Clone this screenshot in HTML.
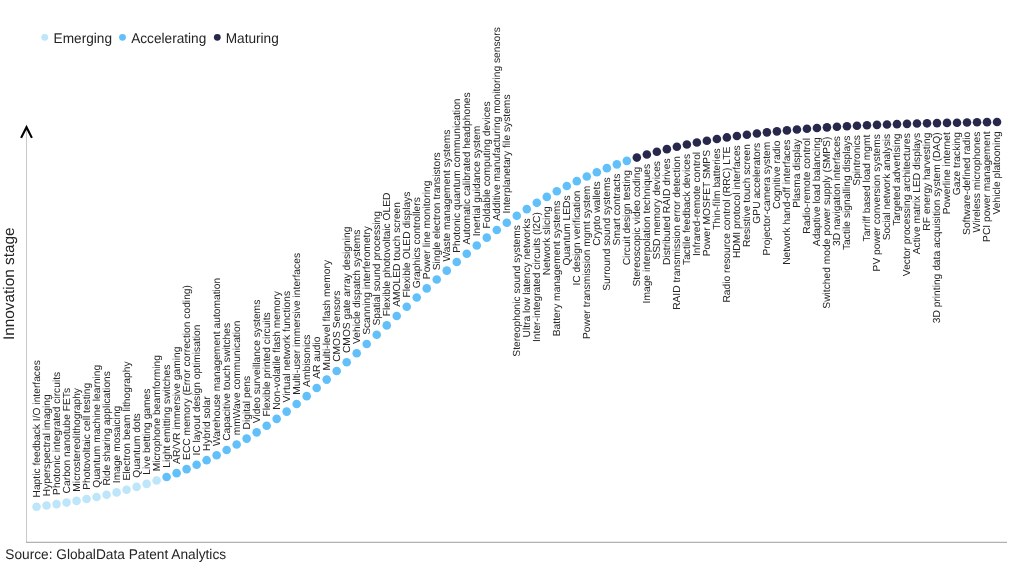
<!DOCTYPE html>
<html lang="en"><head><meta charset="utf-8"><title>Innovation S-curve</title>
<style>html,body{margin:0;padding:0;background:#fff}body{width:1024px;height:576px;overflow:hidden}svg{display:block}text{text-rendering:geometricPrecision;font-family:"Liberation Sans",sans-serif;fill:#242424}.l{font-size:10.25px}.lg{font-size:14.1px}</style></head><body>
<svg width="1024" height="576" viewBox="0 0 1024 576">
<rect width="1024" height="576" fill="#fff"/>
<path d="M26.5 128V542.9" fill="none" stroke="#c9c9c9" stroke-width="1"/>
<path d="M26 542.42H1007" fill="none" stroke="#b1b1b1" stroke-width="1.1"/>
<path d="M21.1 137.9L26.5 127.2L31.9 137.9" fill="none" stroke="#000" stroke-width="2.1" stroke-linejoin="miter"/>
<circle cx="44.7" cy="37.3" r="3.4" fill="#bde6fa"/><text class="lg" transform="translate(53.6 43.25) scale(0.968 1)">Emerging</text>
<circle cx="122.5" cy="37.3" r="3.4" fill="#61c0f9"/><text class="lg" transform="translate(131.2 43.25) scale(0.968 1)">Accelerating</text>
<circle cx="217.3" cy="37.3" r="3.4" fill="#27284b"/><text class="lg" transform="translate(225.7 43.25) scale(0.968 1)">Maturing</text>
<text transform="translate(14.0 340.05) rotate(-90)" font-size="15.35">Innovation stage</text>
<text transform="translate(5.3 558.65) scale(0.975 1)" font-size="14.05">Source: GlobalData Patent Analytics</text>
<g>
<circle cx="36.55" cy="506.71" r="4.3" fill="#bde6fa"/>
<circle cx="46.55" cy="505.47" r="4.3" fill="#bde6fa"/>
<circle cx="56.56" cy="504.10" r="4.3" fill="#bde6fa"/>
<circle cx="66.56" cy="502.58" r="4.3" fill="#bde6fa"/>
<circle cx="76.57" cy="500.89" r="4.3" fill="#bde6fa"/>
<circle cx="86.58" cy="499.04" r="4.3" fill="#bde6fa"/>
<circle cx="96.58" cy="497.01" r="4.3" fill="#bde6fa"/>
<circle cx="106.59" cy="494.80" r="4.3" fill="#bde6fa"/>
<circle cx="116.59" cy="492.38" r="4.3" fill="#bde6fa"/>
<circle cx="126.59" cy="489.76" r="4.3" fill="#bde6fa"/>
<circle cx="136.60" cy="486.91" r="4.3" fill="#bde6fa"/>
<circle cx="146.61" cy="483.84" r="4.3" fill="#bde6fa"/>
<circle cx="156.61" cy="480.53" r="4.3" fill="#bde6fa"/>
<circle cx="166.62" cy="476.97" r="4.3" fill="#61c0f9"/>
<circle cx="176.62" cy="473.16" r="4.3" fill="#61c0f9"/>
<circle cx="186.62" cy="469.10" r="4.3" fill="#61c0f9"/>
<circle cx="196.63" cy="464.78" r="4.3" fill="#61c0f9"/>
<circle cx="206.63" cy="460.17" r="4.3" fill="#61c0f9"/>
<circle cx="216.64" cy="455.27" r="4.3" fill="#61c0f9"/>
<circle cx="226.65" cy="450.04" r="4.3" fill="#61c0f9"/>
<circle cx="236.65" cy="444.49" r="4.3" fill="#61c0f9"/>
<circle cx="246.66" cy="438.59" r="4.3" fill="#61c0f9"/>
<circle cx="256.66" cy="432.36" r="4.3" fill="#61c0f9"/>
<circle cx="266.67" cy="425.79" r="4.3" fill="#61c0f9"/>
<circle cx="276.67" cy="418.87" r="4.3" fill="#61c0f9"/>
<circle cx="286.68" cy="411.61" r="4.3" fill="#61c0f9"/>
<circle cx="296.68" cy="404.02" r="4.3" fill="#61c0f9"/>
<circle cx="306.69" cy="396.13" r="4.3" fill="#61c0f9"/>
<circle cx="316.69" cy="387.98" r="4.3" fill="#61c0f9"/>
<circle cx="326.70" cy="379.61" r="4.3" fill="#61c0f9"/>
<circle cx="336.70" cy="371.03" r="4.3" fill="#61c0f9"/>
<circle cx="346.71" cy="362.24" r="4.3" fill="#61c0f9"/>
<circle cx="356.71" cy="353.22" r="4.3" fill="#61c0f9"/>
<circle cx="366.72" cy="344.04" r="4.3" fill="#61c0f9"/>
<circle cx="376.72" cy="334.75" r="4.3" fill="#61c0f9"/>
<circle cx="386.73" cy="325.39" r="4.3" fill="#61c0f9"/>
<circle cx="396.73" cy="316.02" r="4.3" fill="#61c0f9"/>
<circle cx="406.74" cy="306.71" r="4.3" fill="#61c0f9"/>
<circle cx="416.74" cy="297.49" r="4.3" fill="#61c0f9"/>
<circle cx="426.75" cy="288.39" r="4.3" fill="#61c0f9"/>
<circle cx="436.75" cy="279.44" r="4.3" fill="#61c0f9"/>
<circle cx="446.76" cy="270.66" r="4.3" fill="#61c0f9"/>
<circle cx="456.76" cy="262.07" r="4.3" fill="#61c0f9"/>
<circle cx="466.77" cy="253.69" r="4.3" fill="#61c0f9"/>
<circle cx="476.77" cy="245.55" r="4.3" fill="#61c0f9"/>
<circle cx="486.78" cy="237.66" r="4.3" fill="#61c0f9"/>
<circle cx="496.78" cy="230.05" r="4.3" fill="#61c0f9"/>
<circle cx="506.79" cy="222.75" r="4.3" fill="#61c0f9"/>
<circle cx="516.79" cy="215.76" r="4.3" fill="#61c0f9"/>
<circle cx="526.80" cy="209.12" r="4.3" fill="#61c0f9"/>
<circle cx="536.80" cy="202.83" r="4.3" fill="#61c0f9"/>
<circle cx="546.81" cy="196.91" r="4.3" fill="#61c0f9"/>
<circle cx="556.81" cy="191.32" r="4.3" fill="#61c0f9"/>
<circle cx="566.81" cy="186.07" r="4.3" fill="#61c0f9"/>
<circle cx="576.82" cy="181.14" r="4.3" fill="#61c0f9"/>
<circle cx="586.83" cy="176.51" r="4.3" fill="#61c0f9"/>
<circle cx="596.83" cy="172.18" r="4.3" fill="#61c0f9"/>
<circle cx="606.84" cy="168.13" r="4.3" fill="#61c0f9"/>
<circle cx="616.84" cy="164.36" r="4.3" fill="#61c0f9"/>
<circle cx="626.85" cy="160.84" r="4.3" fill="#61c0f9"/>
<circle cx="636.85" cy="157.58" r="4.3" fill="#27284b"/>
<circle cx="646.86" cy="154.55" r="4.3" fill="#27284b"/>
<circle cx="656.86" cy="151.74" r="4.3" fill="#27284b"/>
<circle cx="666.87" cy="149.15" r="4.3" fill="#27284b"/>
<circle cx="676.87" cy="146.76" r="4.3" fill="#27284b"/>
<circle cx="686.88" cy="144.56" r="4.3" fill="#27284b"/>
<circle cx="696.88" cy="142.54" r="4.3" fill="#27284b"/>
<circle cx="706.88" cy="140.69" r="4.3" fill="#27284b"/>
<circle cx="716.89" cy="138.98" r="4.3" fill="#27284b"/>
<circle cx="726.89" cy="137.42" r="4.3" fill="#27284b"/>
<circle cx="736.90" cy="135.99" r="4.3" fill="#27284b"/>
<circle cx="746.90" cy="134.68" r="4.3" fill="#27284b"/>
<circle cx="756.91" cy="133.48" r="4.3" fill="#27284b"/>
<circle cx="766.91" cy="132.37" r="4.3" fill="#27284b"/>
<circle cx="776.92" cy="131.35" r="4.3" fill="#27284b"/>
<circle cx="786.93" cy="130.41" r="4.3" fill="#27284b"/>
<circle cx="796.93" cy="129.54" r="4.3" fill="#27284b"/>
<circle cx="806.94" cy="128.74" r="4.3" fill="#27284b"/>
<circle cx="816.94" cy="128.01" r="4.3" fill="#27284b"/>
<circle cx="826.95" cy="127.35" r="4.3" fill="#27284b"/>
<circle cx="836.95" cy="126.74" r="4.3" fill="#27284b"/>
<circle cx="846.96" cy="126.19" r="4.3" fill="#27284b"/>
<circle cx="856.96" cy="125.69" r="4.3" fill="#27284b"/>
<circle cx="866.97" cy="125.24" r="4.3" fill="#27284b"/>
<circle cx="876.97" cy="124.84" r="4.3" fill="#27284b"/>
<circle cx="886.98" cy="124.47" r="4.3" fill="#27284b"/>
<circle cx="896.98" cy="124.14" r="4.3" fill="#27284b"/>
<circle cx="906.99" cy="123.84" r="4.3" fill="#27284b"/>
<circle cx="916.99" cy="123.57" r="4.3" fill="#27284b"/>
<circle cx="927.00" cy="123.33" r="4.3" fill="#27284b"/>
<circle cx="937.00" cy="123.10" r="4.3" fill="#27284b"/>
<circle cx="947.00" cy="122.89" r="4.3" fill="#27284b"/>
<circle cx="957.01" cy="122.69" r="4.3" fill="#27284b"/>
<circle cx="967.01" cy="122.50" r="4.3" fill="#27284b"/>
<circle cx="977.02" cy="122.32" r="4.3" fill="#27284b"/>
<circle cx="987.02" cy="122.13" r="4.3" fill="#27284b"/>
<circle cx="997.03" cy="121.94" r="4.3" fill="#27284b"/>
</g><g class="l">
<text transform="translate(40.15 497.51) rotate(-90)">Haptic feedback I/O interfaces</text>
<text transform="translate(50.16 496.27) rotate(-90)">Hyperspectral imaging</text>
<text transform="translate(60.16 494.90) rotate(-90)">Photonic integrated circuits</text>
<text transform="translate(70.16 493.38) rotate(-90)">Carbon nanotube FETs</text>
<text transform="translate(80.17 491.69) rotate(-90)">Microstereolithography</text>
<text transform="translate(90.17 489.84) rotate(-90)">Photovoltaic cell testing</text>
<text transform="translate(100.18 487.81) rotate(-90)">Quantum machine learning</text>
<text transform="translate(110.19 485.60) rotate(-90)">Ride sharing applications</text>
<text transform="translate(120.19 483.18) rotate(-90)">Image mosaicing</text>
<text transform="translate(130.19 480.56) rotate(-90)">Electron beam lithography</text>
<text transform="translate(140.20 477.71) rotate(-90)">Quantum dots</text>
<text transform="translate(150.21 474.64) rotate(-90)">Live betting games</text>
<text transform="translate(160.21 471.33) rotate(-90)">Microphone beamforming</text>
<text transform="translate(170.22 467.77) rotate(-90)">Light emitting switches</text>
<text transform="translate(180.22 463.96) rotate(-90)">AR/VR immersive gaming</text>
<text transform="translate(190.22 459.90) rotate(-90)">ECC memory (Error correction coding)</text>
<text transform="translate(200.23 455.58) rotate(-90)">IC layout design optimisation</text>
<text transform="translate(210.23 450.97) rotate(-90)">Hybrid solar</text>
<text transform="translate(220.24 446.07) rotate(-90)">Warehouse management automation</text>
<text transform="translate(230.25 440.84) rotate(-90)">Capacitive touch switches</text>
<text transform="translate(240.25 435.29) rotate(-90)">mmWave communication</text>
<text transform="translate(250.26 429.39) rotate(-90)">Digital pens</text>
<text transform="translate(260.26 423.16) rotate(-90)">Video surveillance systems</text>
<text transform="translate(270.27 416.59) rotate(-90)">Flexible printed circuits</text>
<text transform="translate(280.27 409.67) rotate(-90)">Non-volatile flash memory</text>
<text transform="translate(290.28 402.41) rotate(-90)">Virtual network functions</text>
<text transform="translate(300.28 394.82) rotate(-90)">Multi-user immersive interfaces</text>
<text transform="translate(310.29 386.93) rotate(-90)">Ambisonics</text>
<text transform="translate(320.29 378.78) rotate(-90)">AR audio</text>
<text transform="translate(330.30 370.41) rotate(-90)">Multi-level flash memory</text>
<text transform="translate(340.30 361.83) rotate(-90)">CMOS Sensors</text>
<text transform="translate(350.31 353.04) rotate(-90)">CMOS gate array designing</text>
<text transform="translate(360.31 344.02) rotate(-90)">Vehicle dispatch systems</text>
<text transform="translate(370.32 334.84) rotate(-90)">Scanning interferometry</text>
<text transform="translate(380.32 325.55) rotate(-90)">Spatial sound processing</text>
<text transform="translate(390.33 316.19) rotate(-90)">Flexible photovoltaic OLED</text>
<text transform="translate(400.33 306.82) rotate(-90)">AMOLED touch screen</text>
<text transform="translate(410.34 297.51) rotate(-90)">Flexible OLED displays</text>
<text transform="translate(420.34 288.29) rotate(-90)">Graphics controllers</text>
<text transform="translate(430.35 279.19) rotate(-90)">Power line monitoring</text>
<text transform="translate(440.35 270.24) rotate(-90)">Single electron transistors</text>
<text transform="translate(450.36 261.46) rotate(-90)">Waste management systems</text>
<text transform="translate(460.36 252.87) rotate(-90)">Photonic quantum communication</text>
<text transform="translate(470.37 244.49) rotate(-90)">Automatic calibrated headphones</text>
<text transform="translate(480.37 236.35) rotate(-90)">Inertial guidance system</text>
<text transform="translate(490.38 228.46) rotate(-90)">Foldable computing devices</text>
<text transform="translate(500.38 220.85) rotate(-90)">Additive manufacturing monitoring sensors</text>
<text transform="translate(510.39 213.55) rotate(-90)">Interplanetary file systems</text>
<text transform="translate(519.94 225.06) rotate(-90)" text-anchor="end">Stereophonic sound systems</text>
<text transform="translate(529.95 218.42) rotate(-90)" text-anchor="end">Ultra low latency networks</text>
<text transform="translate(539.95 212.13) rotate(-90)" text-anchor="end">Inter-integrated circuits (I2C)</text>
<text transform="translate(549.96 206.21) rotate(-90)" text-anchor="end">Network slicing</text>
<text transform="translate(559.96 200.62) rotate(-90)" text-anchor="end">Battery management systems</text>
<text transform="translate(569.96 195.37) rotate(-90)" text-anchor="end">Quantum LEDs</text>
<text transform="translate(579.97 190.44) rotate(-90)" text-anchor="end">IC design verification</text>
<text transform="translate(589.98 185.81) rotate(-90)" text-anchor="end">Power transmission mgmt system</text>
<text transform="translate(599.98 181.48) rotate(-90)" text-anchor="end">Crypto wallets</text>
<text transform="translate(609.99 177.43) rotate(-90)" text-anchor="end">Surround sound systems</text>
<text transform="translate(619.99 173.66) rotate(-90)" text-anchor="end">Smart contracts</text>
<text transform="translate(630.00 170.14) rotate(-90)" text-anchor="end">Circuit design testing</text>
<text transform="translate(640.00 166.88) rotate(-90)" text-anchor="end">Stereoscopic video coding</text>
<text transform="translate(650.00 163.85) rotate(-90)" text-anchor="end">Image interpolation techniques</text>
<text transform="translate(660.01 161.04) rotate(-90)" text-anchor="end">SSD memory devices</text>
<text transform="translate(670.01 158.45) rotate(-90)" text-anchor="end">Distributed RAID drives</text>
<text transform="translate(680.02 156.06) rotate(-90)" text-anchor="end">RAID transmission error detection</text>
<text transform="translate(690.02 153.86) rotate(-90)" text-anchor="end">Tactile feedback devices</text>
<text transform="translate(700.03 151.84) rotate(-90)" text-anchor="end">Infrared-remote control</text>
<text transform="translate(710.03 149.99) rotate(-90)" text-anchor="end">Power MOSFET SMPS</text>
<text transform="translate(720.04 148.28) rotate(-90)" text-anchor="end">Thin-film batteries</text>
<text transform="translate(730.04 146.72) rotate(-90)" text-anchor="end">Radio resource control (RRC) LTE</text>
<text transform="translate(740.05 145.29) rotate(-90)" text-anchor="end">HDMI protocol interfaces</text>
<text transform="translate(750.05 143.98) rotate(-90)" text-anchor="end">Resistive touch screen</text>
<text transform="translate(760.06 142.78) rotate(-90)" text-anchor="end">GPU accelerators</text>
<text transform="translate(770.06 141.67) rotate(-90)" text-anchor="end">Projector-camera system</text>
<text transform="translate(780.07 140.65) rotate(-90)" text-anchor="end">Cognitive radio</text>
<text transform="translate(790.08 139.71) rotate(-90)" text-anchor="end">Network hand-off interfaces</text>
<text transform="translate(800.08 138.84) rotate(-90)" text-anchor="end">Plasma display</text>
<text transform="translate(810.09 138.04) rotate(-90)" text-anchor="end">Radio-remote control</text>
<text transform="translate(820.09 137.31) rotate(-90)" text-anchor="end">Adaptive load balancing</text>
<text transform="translate(830.10 136.65) rotate(-90)" text-anchor="end">Switched mode power supply (SMPS)</text>
<text transform="translate(840.10 136.04) rotate(-90)" text-anchor="end">3D navigation interfaces</text>
<text transform="translate(850.11 135.49) rotate(-90)" text-anchor="end">Tactile signalling displays</text>
<text transform="translate(860.11 134.99) rotate(-90)" text-anchor="end">Spintronics</text>
<text transform="translate(870.12 134.54) rotate(-90)" text-anchor="end">Tarriff based load mgmt</text>
<text transform="translate(880.12 134.14) rotate(-90)" text-anchor="end">PV power conversion systems</text>
<text transform="translate(890.12 133.77) rotate(-90)" text-anchor="end">Social network analysis</text>
<text transform="translate(900.13 133.44) rotate(-90)" text-anchor="end">Targeted advertising</text>
<text transform="translate(910.13 133.14) rotate(-90)" text-anchor="end">Vector processing architectures</text>
<text transform="translate(920.14 132.87) rotate(-90)" text-anchor="end">Active matrix LED displays</text>
<text transform="translate(930.14 132.63) rotate(-90)" text-anchor="end">RF energy harvesting</text>
<text transform="translate(940.15 132.40) rotate(-90)" text-anchor="end">3D printing data acquisition system (DAQ)</text>
<text transform="translate(950.15 132.19) rotate(-90)" text-anchor="end">Powerline internet</text>
<text transform="translate(960.16 131.99) rotate(-90)" text-anchor="end">Gaze tracking</text>
<text transform="translate(970.16 131.80) rotate(-90)" text-anchor="end">Software-defined radio</text>
<text transform="translate(980.17 131.62) rotate(-90)" text-anchor="end">Wireless microphones</text>
<text transform="translate(990.17 131.43) rotate(-90)" text-anchor="end">PCI power management</text>
<text transform="translate(1000.18 131.24) rotate(-90)" text-anchor="end">Vehicle platooning</text>
</g></svg></body></html>
